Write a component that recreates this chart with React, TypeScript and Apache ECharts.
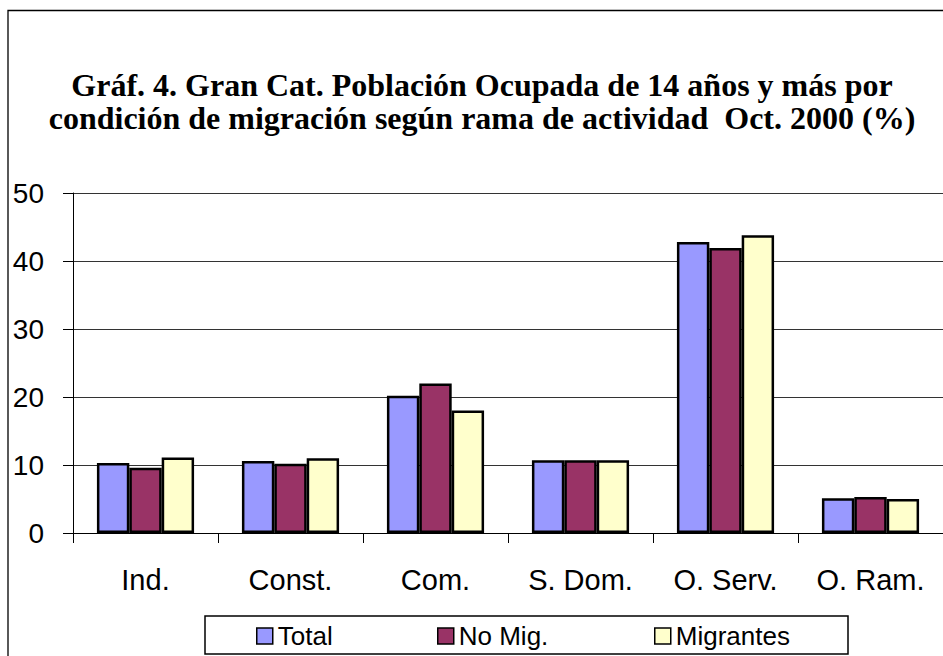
import React, { useEffect, useRef } from "react";
import * as echarts from "echarts";

const categories = ["Ind.", "Const.", "Com.", "S. Dom.", "O. Serv.", "O. Ram."];
const totalValues = [10.3, 10.6, 20.2, 10.7, 42.8, 5.1];
const noMigValues = [9.6, 10.2, 22.0, 10.7, 41.9, 5.3];
const migrantesValues = [11.1, 11.0, 18.0, 10.7, 43.8, 5.0];
const seriesNames = ["Total", "No Mig.", "Migrantes"];
const seriesColors = ["#9999FF", "#993366", "#FFFFCC"];
const titleText =
  "Gráf. 4. Gran Cat. Población Ocupada de 14 años y más por\ncondición de migración según rama de actividad  Oct. 2000 (%)";

export default function App() {
  const ref = useRef<HTMLDivElement>(null);

  useEffect(() => {
    if (!ref.current) return;
    const chart = echarts.init(ref.current, null, { renderer: "svg" });
    const values = [totalValues, noMigValues, migrantesValues];
    const sans = "Liberation Sans";
    const serif = "Liberation Serif";
    const legendLefts = [256, 437, 654];

    chart.setOption({
      animation: false,
      backgroundColor: "#ffffff",
      title: {
        text: titleText,
        left: 482,
        textAlign: "center",
        top: 68,
        padding: 0,
        textStyle: {
          fontFamily: serif,
          fontWeight: "bold",
          fontSize: 32,
          lineHeight: 33,
          color: "#000",
        },
      },
      legend: seriesNames.map((n, i) => ({
        data: [n],
        left: legendLefts[i],
        top: 623,
        padding: 0,
        icon: "rect",
        itemWidth: 16,
        itemHeight: 16,
        itemStyle: { borderColor: "#000", borderWidth: 1.5 },
        textStyle: { fontFamily: sans, fontSize: 26, color: "#000", lineHeight: 26 },
      })),
      grid: { left: 73, right: -12, top: 193, bottom: 123, containLabel: false },
      xAxis: {
        type: "category",
        data: categories,
        axisLine: { show: true, lineStyle: { color: "#000", width: 1 } },
        axisTick: { show: true, inside: false, length: 10, lineStyle: { color: "#000" } },
        axisLabel: { fontFamily: sans, fontSize: 29, color: "#000", margin: 32, interval: 0 },
      },
      yAxis: {
        type: "value",
        min: 0,
        max: 50,
        interval: 10,
        axisLine: { show: true, lineStyle: { color: "#000", width: 1 } },
        axisTick: { show: true, inside: false, length: 10, lineStyle: { color: "#000" } },
        axisLabel: { fontFamily: sans, fontSize: 28, color: "#000", margin: 29 },
        splitLine: { show: true, lineStyle: { color: "#333", width: 1 } },
      },
      series: seriesNames.map((n, i) => ({
        name: n,
        type: "bar",
        data: values[i],
        barGap: "0%",
        barCategoryGap: "33%",
        itemStyle: { color: seriesColors[i], borderColor: "#000", borderWidth: 2.5 },
      })),
      graphic: [
        {
          type: "rect",
          shape: { x: 8, y: 10.5, width: 1000, height: 1000 },
          style: { fill: "none", stroke: "#000", lineWidth: 1.3 },
          silent: true,
        },
        {
          type: "rect",
          shape: { x: 205, y: 616, width: 643, height: 38 },
          style: { fill: "none", stroke: "#000", lineWidth: 1.5 },
          silent: true,
        },
      ],
    });

    return () => chart.dispose();
  }, []);

  return (
    <div
      ref={ref}
      style={{ position: "fixed", left: 0, top: 0, width: 943, height: 656, background: "#fff" }}
    />
  );
}
